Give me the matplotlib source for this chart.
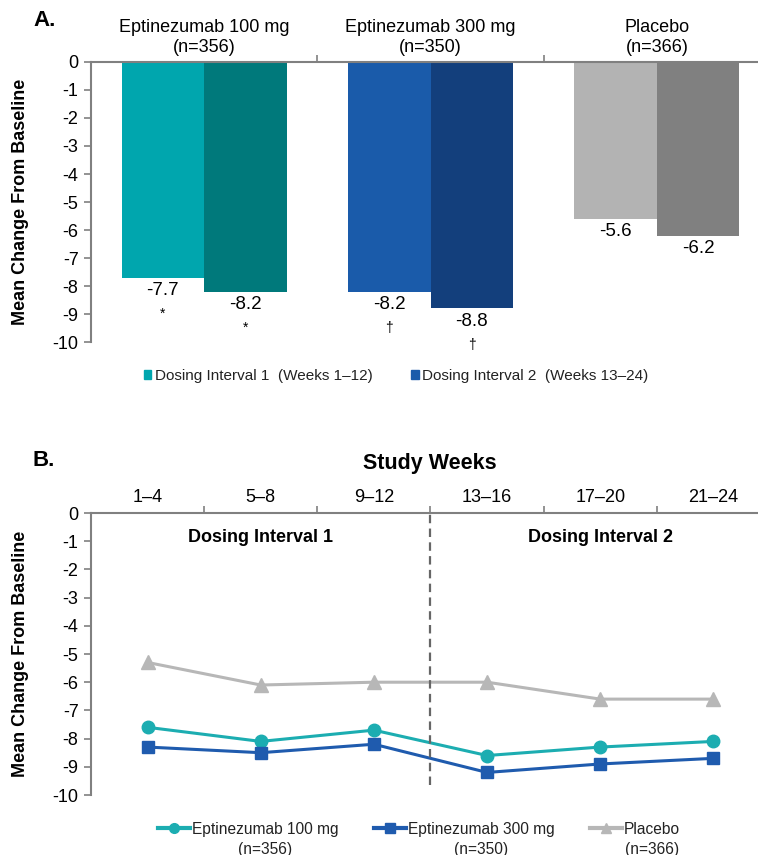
import numpy as np
import matplotlib
matplotlib.use("Agg")
from matplotlib import pyplot as plt
from matplotlib.patches import Patch
from matplotlib.lines import Line2D

plt.rcParams['font.family'] = ['Liberation Sans', 'DejaVu Sans']

# panel A data
groups = ["Eptinezumab 100 mg\n(n=356)", "Eptinezumab 300 mg\n(n=350)", "Placebo\n(n=366)"]
interval1 = [-7.7, -8.2, -5.6]
interval2 = [-8.2, -8.8, -6.2]
marks1 = ["*", "\u2020", ""]
marks2 = ["*", "\u2020", ""]
legend_a = ["Dosing Interval 1  (Weeks 1\u201312)", "Dosing Interval 2  (Weeks 13\u201324)"]

# panel B data
weeks = ["1\u20134", "5\u20138", "9\u201312", "13\u201316", "17\u201320", "21\u201324"]
line_100 = [-7.6, -8.1, -7.7, -8.6, -8.3, -8.1]
line_300 = [-8.3, -8.5, -8.2, -9.2, -8.9, -8.7]
line_pbo = [-5.3, -6.1, -6.0, -6.0, -6.6, -6.6]
line_names = ["Eptinezumab 100 mg", "Eptinezumab 300 mg", "Placebo"]
line_n = ["(n=356)", "(n=350)", "(n=366)"]

c1 = ["#00A6AE", "#1A5BAA", "#B3B3B3"]
c2 = ["#00797B", "#133F7C", "#808080"]
spine_col = "#808080"

fig = plt.figure(figsize=(7.58, 8.55), dpi=100)

def style_axes(ax):
    for s in ["right", "bottom"]:
        ax.spines[s].set_visible(False)
    for s in ["left", "top"]:
        ax.spines[s].set_color(spine_col)
        ax.spines[s].set_linewidth(1.5)
    ax.set_ylim(-10, 0)
    ax.set_yticks(np.arange(0, -11, -1))
    ax.set_yticklabels([str(v) for v in range(0, -11, -1)])
    ax.tick_params(axis="y", direction="out", length=5, width=1.2, color=spine_col,
                   labelsize=13, pad=4)
    ax.set_ylabel("Mean Change From Baseline", fontsize=13, fontweight="bold")
    ax.yaxis.set_label_coords(-62/679, 0.5)

# ---- panel A ----
axA = fig.add_axes([91/758, 1-342/855, 679/758, 280/855])
style_axes(axA)
x = np.arange(len(groups))
w = 0.365
b1 = axA.bar(x - w/2, interval1, w, color=c1)
b2 = axA.bar(x + w/2, interval2, w, color=c2)
axA.set_xlim(-0.5, 2.5)
axA.xaxis.tick_top()
axA.set_xticks(x[:-1] + 0.5)
axA.set_xticklabels([])
axA.tick_params(axis="x", direction="out", length=5, width=1.2, color=spine_col)
for i, g in enumerate(groups):
    axA.annotate(g, (x[i], 0), xytext=(0, 4), textcoords="offset points",
                 ha="center", va="bottom", fontsize=13, linespacing=1.25)
for bars, vals, mks in [(b1, interval1, marks1), (b2, interval2, marks2)]:
    for bar, v, m in zip(bars, vals, mks):
        cx = bar.get_x() + bar.get_width()/2
        axA.annotate("%.1f" % v, (cx, v), xytext=(0, -3), textcoords="offset points",
                     ha="center", va="top", fontsize=13.5)
        if m:
            axA.annotate(m, (cx, v), xytext=(0, -21), textcoords="offset points",
                         ha="center", va="top", fontsize=10)
fig.text(33/758, 1-21/855, "A.", fontsize=16, fontweight="bold", va="center")
fig.legend([Patch(color=c1[0]), Patch(color=c1[1])], legend_a,
           loc="center", bbox_to_anchor=(396/758, 1-376/855), ncol=2, frameon=False,
           fontsize=11, handlelength=0.52, handleheight=0.52, handletextpad=0.2,
           columnspacing=2.55, labelcolor="#222222")

# ---- panel B ----
axB = fig.add_axes([91/758, 1-795/855, 679/758, 282/855])
style_axes(axB)
xb = np.arange(len(weeks))
axB.plot(xb, line_pbo, color="#B7B7B7", lw=2.2, marker="^", ms=9.5)
axB.plot(xb, line_100, color="#1CADB1", lw=2.2, marker="o", ms=9)
axB.plot(xb, line_300, color="#1F5BAE", lw=2.2, marker="s", ms=8.5)
axB.set_xlim(-0.5, 5.5)
axB.xaxis.tick_top()
axB.set_xticks(xb[:-1] + 0.5)
axB.set_xticklabels([])
axB.set_xticks(xb, minor=True)
axB.set_xticklabels(weeks, minor=True)
axB.tick_params(axis="x", which="major", direction="out", length=5, width=1.2, color=spine_col)
axB.tick_params(axis="x", which="minor", length=0, labelsize=13, pad=5)
axB.axvline(2.5, ymin=0.036, ymax=1, color="#666666", lw=1.6, ls=(0, (3.8, 2.4)))
axB.text(1, -0.88, "Dosing Interval 1", ha="center", va="center", fontsize=13, fontweight="bold")
axB.text(4, -0.88, "Dosing Interval 2", ha="center", va="center", fontsize=13, fontweight="bold")
fig.text(430/758, 1-463/855, "Study Weeks", ha="center", va="center", fontsize=15.5, fontweight="bold")
fig.text(33/758, 1-460/855, "B.", fontsize=16, fontweight="bold", va="center")
hB = [Line2D([], [], color="#1CADB1", lw=3, marker="o", ms=7),
      Line2D([], [], color="#1F5BAE", lw=3, marker="s", ms=6.5),
      Line2D([], [], color="#B7B7B7", lw=3, marker="^", ms=7.5)]
legB = fig.legend(hB, line_names, loc="center", bbox_to_anchor=(419/758, 1-829/855), ncol=3,
                  frameon=False, fontsize=11.2, handlelength=2.05, handletextpad=0.13,
                  columnspacing=2.3, labelcolor="#222222")

# the (n=...) line sits centred under each legend name
fig.canvas.draw()
inv = fig.transFigure.inverted()
for t, n in zip(legB.get_texts(), line_n):
    bb = t.get_window_extent().transformed(inv)
    fig.text((bb.x0 + bb.x1) / 2, 1-849/855, n, ha="center", va="center",
             fontsize=11.2, color="#222222")

fig.savefig("out.png", dpi=100)
